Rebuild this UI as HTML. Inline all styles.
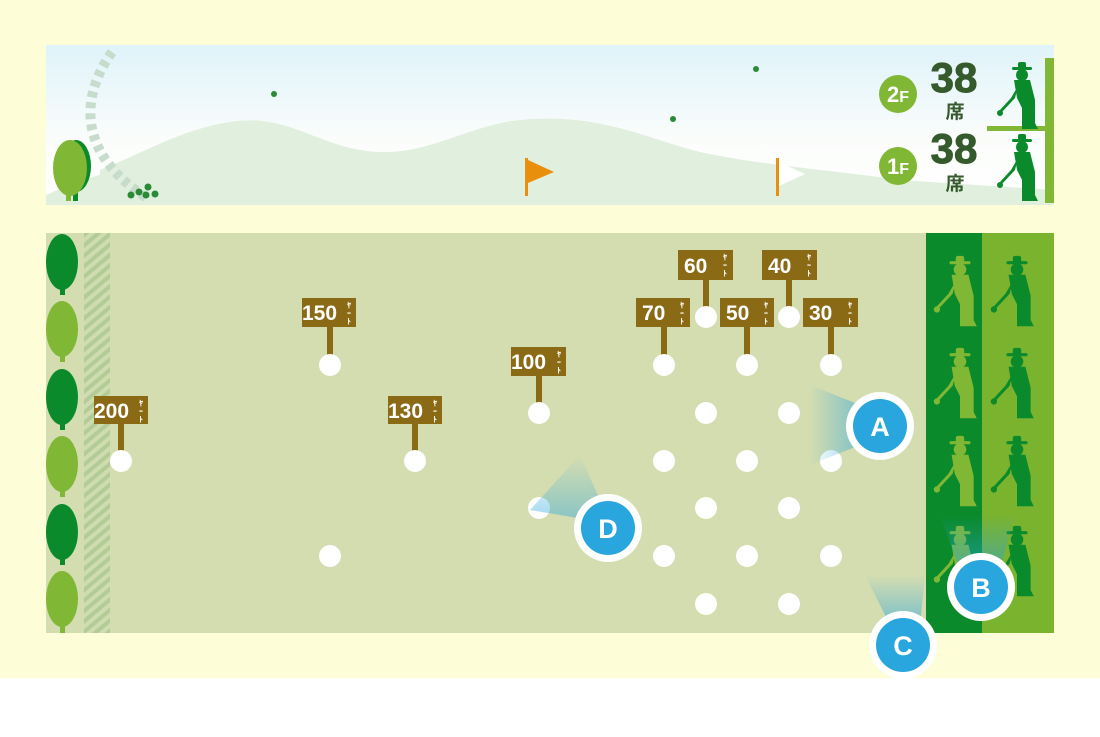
<!DOCTYPE html>
<html><head><meta charset="utf-8"><style>
body{margin:0;width:1100px;height:732px;background:#fff;font-family:"Liberation Sans","Noto Sans CJK JP",sans-serif;overflow:hidden}
</style></head><body>
<svg width="1100" height="732" viewBox="0 0 1100 732" xmlns="http://www.w3.org/2000/svg" font-family="Liberation Sans, Noto Sans CJK JP, sans-serif">
<defs>
<linearGradient id="sky" x1="0" y1="0" x2="0" y2="1"><stop offset="0" stop-color="#dff3fa"/><stop offset="0.6" stop-color="#fbfdfb"/><stop offset="1" stop-color="#ffffff"/></linearGradient>
<linearGradient id="beamA" x1="0" y1="0" x2="1" y2="0"><stop offset="0" stop-color="#2aa6de" stop-opacity="0"/><stop offset="1" stop-color="#2aa6de" stop-opacity="0.5"/></linearGradient>
<linearGradient id="beamV" x1="0" y1="0" x2="0" y2="1"><stop offset="0" stop-color="#2aa6de" stop-opacity="0"/><stop offset="1" stop-color="#2aa6de" stop-opacity="0.55"/></linearGradient>
<pattern id="hatch" width="8" height="8" patternUnits="userSpaceOnUse" patternTransform="rotate(-40)"><rect width="8" height="8" fill="#cfdcb0"/><rect width="8" height="4" fill="#b3cc96"/></pattern>
<g id="golfer"><circle cx="0" cy="-29" r="6"/><rect x="-10" y="-37" width="20" height="3" rx="1.5"/><rect x="-4" y="-42" width="8" height="7" rx="2"/><path d="M-8 -24 L8 -24 L13 -4 L13 19 L16 25 L0 25 L0 4 L-5 -6 Z"/><path d="M-4 -18 L-7 -6 L-20 8 L-22 6 L-11 -6 Z"/><circle cx="-22" cy="9" r="3"/></g>
</defs>
<rect width="1100" height="678" fill="#fdfdd8"/>
<!-- top panel -->
<rect x="46" y="45" width="1008" height="160" fill="url(#sky)"/>
<path d="M100 170 C150 150 180 130 230 122 C290 112 320 150 380 152 C430 154 470 125 520 120 C600 112 650 140 700 152 C760 165 830 170 900 180 L1054 190 L1054 205 L100 205 Z" fill="#e0efde"/>
<path d="M46 195 C90 175 120 168 160 165 L160 205 L46 205Z" fill="#e0efde"/>
<path d="M112 52 C85 90 70 150 150 200" stroke="#c7dccc" stroke-width="10" fill="none" stroke-dasharray="6 5"/>
<circle cx="131" cy="195" r="3.5" fill="#2a8a36"/><circle cx="139" cy="192" r="3.5" fill="#2a8a36"/><circle cx="148" cy="187" r="3.5" fill="#2a8a36"/><circle cx="146" cy="195" r="3.5" fill="#2a8a36"/><circle cx="155" cy="194" r="3.5" fill="#2a8a36"/>
<ellipse cx="76" cy="166" rx="15" ry="26" fill="#0a8a2a"/><rect x="73" y="185" width="5" height="16" fill="#0a8a2a"/>
<ellipse cx="70" cy="168" rx="17" ry="28" fill="#80b734"/><rect x="66" y="188" width="5" height="13" fill="#80b734"/>
<circle cx="274" cy="94" r="3" fill="#2a8a36"/><circle cx="756" cy="69" r="3" fill="#2a8a36"/><circle cx="673" cy="119" r="3" fill="#2a8a36"/>
<rect x="525" y="158" width="3" height="38" fill="#e8900e"/><path d="M528 160 L554 172 L528 183Z" fill="#e8900e"/>
<rect x="776" y="158" width="3" height="38" fill="#e8900e"/><path d="M779 162 L805 174 L779 186Z" fill="#fff"/>
<circle cx="898" cy="94" r="19" fill="#80b734"/><text x="898" y="102" font-size="22" font-weight="bold" fill="#fff" text-anchor="middle">2<tspan font-size="16">F</tspan></text>
<circle cx="898" cy="166" r="19" fill="#80b734"/><text x="898" y="174" font-size="22" font-weight="bold" fill="#fff" text-anchor="middle">1<tspan font-size="16">F</tspan></text>
<text x="954" y="92" font-size="42" font-weight="bold" fill="#355a2c" text-anchor="middle" stroke="#355a2c" stroke-width="1">38</text>
<text x="955" y="118" font-size="19" font-weight="bold" fill="#355a2c" text-anchor="middle">席</text>
<text x="954" y="163" font-size="42" font-weight="bold" fill="#355a2c" text-anchor="middle" stroke="#355a2c" stroke-width="1">38</text>
<text x="955" y="190" font-size="19" font-weight="bold" fill="#355a2c" text-anchor="middle">席</text>
<rect x="1045" y="58" width="9" height="145" fill="#80b734"/><rect x="987" y="126" width="60" height="5" fill="#80b734"/>
<g fill="#0a8a2a"><use href="#golfer" transform="translate(1022,104)"/><use href="#golfer" transform="translate(1022,176)"/></g>
<!-- field -->
<rect x="46" y="233" width="1008" height="400" fill="#d4ddb0"/>
<rect x="84" y="233" width="26" height="400" fill="url(#hatch)"/>
<g>
<ellipse cx="62" cy="262" rx="16" ry="28" fill="#0a8a2a"/><rect x="60" y="285" width="5" height="10" fill="#0a8a2a"/>
<ellipse cx="62" cy="329" rx="16" ry="28" fill="#80b734"/><rect x="60" y="352" width="5" height="10" fill="#80b734"/>
<ellipse cx="62" cy="397" rx="16" ry="28" fill="#0a8a2a"/><rect x="60" y="420" width="5" height="10" fill="#0a8a2a"/>
<ellipse cx="62" cy="464" rx="16" ry="28" fill="#80b734"/><rect x="60" y="487" width="5" height="10" fill="#80b734"/>
<ellipse cx="62" cy="532" rx="16" ry="28" fill="#0a8a2a"/><rect x="60" y="555" width="5" height="10" fill="#0a8a2a"/>
<ellipse cx="62" cy="599" rx="16" ry="28" fill="#80b734"/><rect x="60" y="622" width="5" height="11" fill="#80b734"/>
</g>
<rect x="926" y="233" width="56" height="400" fill="#0a8a2a"/><rect x="982" y="233" width="72" height="400" fill="#7ab32e"/>
<g fill="#80b734"><use href="#golfer" transform="translate(960,300) scale(1.05)"/><use href="#golfer" transform="translate(960,392) scale(1.05)"/><use href="#golfer" transform="translate(960,480) scale(1.05)"/><use href="#golfer" transform="translate(960,570) scale(1.05)"/></g>
<g fill="#0a8a2a"><use href="#golfer" transform="translate(1017,300) scale(1.05)"/><use href="#golfer" transform="translate(1017,392) scale(1.05)"/><use href="#golfer" transform="translate(1017,480) scale(1.05)"/><use href="#golfer" transform="translate(1017,570) scale(1.05)"/></g>
<!-- signs -->
<g fill="#8a6a14">
<rect x="94" y="396" width="54" height="28"/><rect x="118" y="424" width="6" height="30"/>
<rect x="302" y="298" width="54" height="29"/><rect x="327" y="327" width="6" height="30"/>
<rect x="388" y="396" width="54" height="28"/><rect x="412" y="424" width="6" height="30"/>
<rect x="511" y="347" width="55" height="29"/><rect x="536" y="376" width="6" height="30"/>
<rect x="636" y="298" width="54" height="29"/><rect x="661" y="327" width="6" height="30"/>
<rect x="678" y="250" width="55" height="30"/><rect x="703" y="280" width="6" height="30"/>
<rect x="720" y="298" width="54" height="29"/><rect x="744" y="327" width="6" height="30"/>
<rect x="762" y="250" width="55" height="30"/><rect x="786" y="280" width="6" height="30"/>
<rect x="803" y="298" width="55" height="29"/><rect x="828" y="327" width="6" height="30"/>
</g>
<g fill="#fff" font-weight="bold" font-size="21">
<text x="94" y="418">200</text><text x="302" y="320">150</text><text x="388" y="418">130</text><text x="511" y="369">100</text>
<text x="642" y="320">70</text><text x="684" y="273">60</text><text x="726" y="320">50</text><text x="768" y="273">40</text><text x="809" y="320">30</text>
</g>
<g fill="#fff" font-size="8" font-weight="bold">
<text x="139" y="406">ﾔ</text><text x="139" y="414">ｰ</text><text x="139" y="422">ﾄ</text>
<text x="347" y="308">ﾔ</text><text x="347" y="316">ｰ</text><text x="347" y="324">ﾄ</text>
<text x="433" y="406">ﾔ</text><text x="433" y="414">ｰ</text><text x="433" y="422">ﾄ</text>
<text x="557" y="357">ﾔ</text><text x="557" y="365">ｰ</text><text x="557" y="373">ﾄ</text>
<text x="680" y="308">ﾔ</text><text x="680" y="316">ｰ</text><text x="680" y="324">ﾄ</text>
<text x="723" y="260">ﾔ</text><text x="723" y="268">ｰ</text><text x="723" y="276">ﾄ</text>
<text x="764" y="308">ﾔ</text><text x="764" y="316">ｰ</text><text x="764" y="324">ﾄ</text>
<text x="807" y="260">ﾔ</text><text x="807" y="268">ｰ</text><text x="807" y="276">ﾄ</text>
<text x="848" y="308">ﾔ</text><text x="848" y="316">ｰ</text><text x="848" y="324">ﾄ</text>
</g>
<g fill="#fff">
<circle cx="121" cy="461" r="11"/><circle cx="330" cy="365" r="11"/><circle cx="415" cy="461" r="11"/><circle cx="539" cy="413" r="11"/>
<circle cx="664" cy="365" r="11"/><circle cx="706" cy="317" r="11"/><circle cx="747" cy="365" r="11"/><circle cx="789" cy="317" r="11"/><circle cx="831" cy="365" r="11"/>
<circle cx="706" cy="413" r="11"/><circle cx="789" cy="413" r="11"/><circle cx="664" cy="461" r="11"/><circle cx="747" cy="461" r="11"/><circle cx="831" cy="461" r="11"/>
<circle cx="539" cy="508" r="11"/><circle cx="706" cy="508" r="11"/><circle cx="789" cy="508" r="11"/>
<circle cx="330" cy="556" r="11"/><circle cx="664" cy="556" r="11"/><circle cx="747" cy="556" r="11"/><circle cx="831" cy="556" r="11"/>
<circle cx="706" cy="604" r="11"/><circle cx="789" cy="604" r="11"/>
</g>
<!-- beams -->
<path d="M810 385 L860 405 L860 445 L810 465Z" fill="url(#beamA)"/>
<path d="M580 455 L600 500 L590 520 L530 510Z" fill="url(#beamV)" opacity="0.8"/>
<path d="M940 515 L1015 515 L1000 570 L960 570Z" fill="url(#beamV)"/>
<path d="M865 575 L925 575 L920 625 L890 625Z" fill="url(#beamV)"/>
<g font-size="27" font-weight="bold" fill="#fff" text-anchor="middle">
<circle cx="880" cy="426" r="34" fill="#fff"/><circle cx="880" cy="426" r="27" fill="#2aa6de"/><text x="880" y="436">A</text>
<circle cx="608" cy="528" r="34" fill="#fff"/><circle cx="608" cy="528" r="27" fill="#2aa6de"/><text x="608" y="538">D</text>
<circle cx="981" cy="587" r="34" fill="#fff"/><circle cx="981" cy="587" r="27" fill="#2aa6de"/><text x="981" y="597">B</text>
<circle cx="903" cy="645" r="34" fill="#fff"/><circle cx="903" cy="645" r="27" fill="#2aa6de"/><text x="903" y="655">C</text>
</g>
</svg>
</body></html>
